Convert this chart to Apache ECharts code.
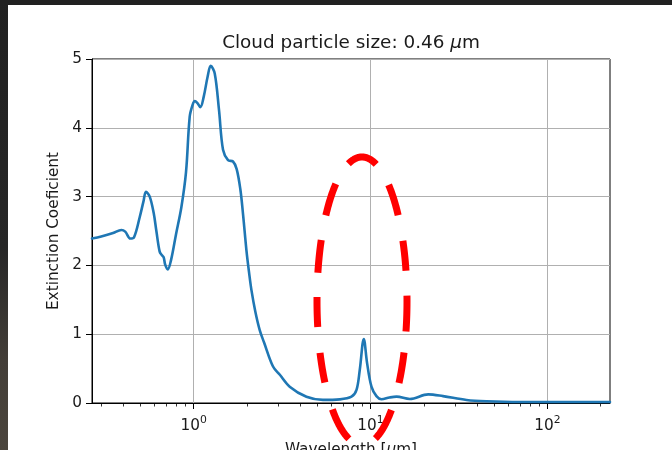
<!DOCTYPE html>
<html>
<head>
<meta charset="utf-8">
<script src="https://cdn.jsdelivr.net/npm/echarts@6/dist/echarts.min.js"></script>
<style>
  html, body { margin: 0; padding: 0; background: #ffffff; }
  #chart { width: 672px; height: 450px; }
</style>
</head>
<body>
<div id="chart"></div>
<script>
// Extinction spectrum of a cloud particle (wavelength in micrometres)
const wavelength = [0.266, 0.30, 0.35, 0.39, 0.41, 0.438, 0.46, 0.495, 0.52, 0.537, 0.564, 0.594, 0.615, 0.642, 0.66, 0.676, 0.69, 0.713, 0.745, 0.794, 0.852, 0.905, 0.949, 0.985, 1.013, 1.05, 1.091, 1.139, 1.20, 1.248, 1.315, 1.39, 1.465, 1.563, 1.668, 1.75, 1.837, 1.90, 1.987, 2.06, 2.121, 2.23, 2.362, 2.50, 2.809, 3.07, 3.49, 4.34, 5.38, 6.70, 7.80, 8.33, 8.69, 9.16, 9.56, 10.12, 10.8, 11.53, 12.8, 14.03, 16.68, 21.2, 25.7, 34.9, 45.3, 69.9, 226];
const extinction = [2.39, 2.42, 2.47, 2.515, 2.49, 2.39, 2.41, 2.70, 2.93, 3.07, 3.00, 2.76, 2.50, 2.20, 2.15, 2.12, 2.01, 1.94, 2.08, 2.45, 2.85, 3.36, 4.16, 4.33, 4.39, 4.36, 4.30, 4.45, 4.75, 4.90, 4.79, 4.26, 3.68, 3.53, 3.51, 3.40, 3.10, 2.75, 2.22, 1.88, 1.64, 1.33, 1.06, 0.88, 0.53, 0.41, 0.237, 0.09, 0.045, 0.053, 0.092, 0.19, 0.48, 0.93, 0.58, 0.237, 0.10, 0.055, 0.08, 0.092, 0.058, 0.126, 0.10, 0.044, 0.025, 0.015, 0.015];

// Axis extents and ticks (wavelength units for the log axis)
const xRange = [0.266, 226];
const majorTicks = [1, 10, 100];
const minorTicks = [0.3, 0.4, 0.5, 0.6, 0.7, 0.8, 0.9, 2, 3, 4, 5, 6, 7, 8, 9, 20, 30, 40, 50, 60, 70, 80, 90, 200];
const yRange = [0, 5];
const yStep = 1;

const FONT = 'DejaVu Sans';
const TXT = '#1a1a1a';
const lg = Math.log10;

// Hand-drawn style dashed ellipse: each dash is a polyline along the outline,
// dash intervals given as arc length measured from the leftmost point, going down.
const ring = { cx: 362, cy: 301, rx: 45, ry: 144 };
const dashSpans = [[-4, 26], [52, 82], [110, 144], [174, 207], [235, 266], [287, 323], [348, 378], [404, 436], [460, 492], [516, 549], [574, 607]];

function ellipseDashes(e, spans) {
  const N = 4000;
  const pts = [], cum = [0];
  for (let i = 0; i <= N; i++) {
    const t = (i / N) * Math.PI * 2;
    pts.push([e.cx - e.rx * Math.cos(t), e.cy + e.ry * Math.sin(t)]);
    if (i > 0) {
      const dx = pts[i][0] - pts[i - 1][0], dy = pts[i][1] - pts[i - 1][1];
      cum.push(cum[i - 1] + Math.hypot(dx, dy));
    }
  }
  const P = cum[N];
  const at = s => {
    s = ((s % P) + P) % P;
    let lo = 0, hi = N;
    while (hi - lo > 1) { const m = (lo + hi) >> 1; if (cum[m] <= s) lo = m; else hi = m; }
    const f = (s - cum[lo]) / Math.max(1e-9, cum[hi] - cum[lo]);
    return [pts[lo][0] + f * (pts[hi][0] - pts[lo][0]), pts[lo][1] + f * (pts[hi][1] - pts[lo][1])];
  };
  return spans.map(([a, b]) => {
    const p = [];
    for (let s = a; s < b; s += 1) p.push(at(s));
    p.push(at(b));
    return {
      type: 'polyline', z: 100, silent: true,
      shape: { points: p },
      style: { stroke: '#ff0000', lineWidth: 7, lineCap: 'butt', lineJoin: 'round', fill: null }
    };
  });
}

const chart = echarts.init(document.getElementById('chart'), null, { renderer: 'canvas' });

const sharedX = {
  type: 'value',
  gridIndex: 0,
  position: 'bottom',
  min: lg(xRange[0]),
  max: lg(xRange[1]),
  splitNumber: 3
};

chart.setOption({
  animation: false,
  backgroundColor: '#ffffff',
  grid: {
    left: 92, right: 62, top: 59, bottom: 47,
    outerBoundsMode: 'none',
    containLabel: false,
    show: true, borderColor: '#000000', borderWidth: 1,
    backgroundColor: 'transparent'
  },
  xAxis: [
    Object.assign({}, sharedX, {
      axisLine: { show: true, onZero: false, lineStyle: { color: '#000000', width: 1 } },
      axisTick: { show: true, length: 6, customValues: majorTicks.map(lg), lineStyle: { color: '#000000', width: 1 } },
      minorTick: { show: false },
      axisLabel: {
        customValues: majorTicks.map(lg),
        margin: 11,
        formatter: v => '{b|10}{s|' + Math.round(v) + '}',
        rich: {
          b: { fontFamily: FONT, fontSize: 15.3, color: TXT, verticalAlign: 'bottom', lineHeight: 20 },
          s: { fontFamily: FONT, fontSize: 10.8, color: TXT, verticalAlign: 'bottom', padding: [0, 0, 8, 0], lineHeight: 20 }
        }
      },
      splitLine: { show: true, lineStyle: { color: '#b0b0b0', width: 1 } },
      name: '{n|Wavelength [}{i|μ}{n|m]}',
      nameLocation: 'middle',
      nameGap: 40,
      nameTextStyle: {
        rich: {
          n: { fontFamily: FONT, fontSize: 15.3, color: TXT },
          i: { fontFamily: FONT, fontSize: 15.3, color: TXT, fontStyle: 'italic' }
        }
      }
    }),
    Object.assign({}, sharedX, {
      axisLine: { show: false, onZero: false },
      axisTick: { show: true, length: 3.5, customValues: minorTicks.map(lg), lineStyle: { color: '#000000', width: 0.8 } },
      axisLabel: { show: false },
      splitLine: { show: false }
    })
  ],
  yAxis: {
    type: 'value',
    min: yRange[0], max: yRange[1], interval: yStep,
    axisLine: { show: true, onZero: false, lineStyle: { color: '#000000', width: 1 } },
    axisTick: { show: true, length: 6, lineStyle: { color: '#000000', width: 1 } },
    axisLabel: { margin: 10, fontFamily: FONT, fontSize: 15.3, color: TXT },
    splitLine: { show: true, lineStyle: { color: '#b0b0b0', width: 1 } },
    name: 'Extinction Coeficient',
    nameLocation: 'middle',
    nameGap: 27,
    nameTextStyle: { fontFamily: FONT, fontSize: 15.3, color: TXT }
  },
  series: [{
    type: 'line',
    xAxisIndex: 0,
    data: wavelength.map((w, i) => [lg(w), extinction[i]]),
    showSymbol: false,
    smooth: 0.35,
    clip: true,
    lineStyle: { color: '#1f77b4', width: 2.6, join: 'round', cap: 'round' },
    z: 3
  }],
  graphic: [
    // window frame edges
    { type: 'rect', shape: { x: 0, y: 0, width: 672, height: 5 }, style: { fill: '#212121' }, z: 200 },
    {
      type: 'rect', shape: { x: 0, y: 0, width: 8, height: 450 }, z: 200,
      style: {
        fill: new echarts.graphic.LinearGradient(0, 0, 0, 1, [
          { offset: 0, color: '#212121' },
          { offset: 0.55, color: '#272727' },
          { offset: 0.8, color: '#433e38' },
          { offset: 1, color: '#4b453d' }
        ])
      }
    },
    // title with italic mu
    {
      type: 'text', x: 351, y: 43, z: 50,
      style: {
        text: '{a|Cloud particle size: 0.46 }{i|μ}{a|m}',
        textAlign: 'center', textVerticalAlign: 'middle',
        rich: {
          a: { fontFamily: FONT, fontSize: 18.4, fill: TXT },
          i: { fontFamily: FONT, fontSize: 18.4, fill: TXT, fontStyle: 'italic' }
        }
      }
    }
  ].concat(ellipseDashes(ring, dashSpans))
});
</script>
</body>
</html>
